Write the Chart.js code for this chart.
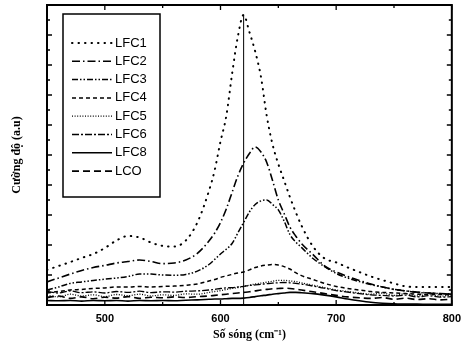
<!DOCTYPE html>
<html>
<head>
<meta charset="utf-8">
<script src="https://cdn.jsdelivr.net/npm/chart.js@4.4.0/dist/chart.umd.min.js"></script>
<style>
html,body{margin:0;padding:0;background:#fff;}
</style>
</head>
<body>
<canvas id="Chart" width="468" height="355"></canvas>
<script>
// wavenumber grid (cm-1), finer around the peaks
var wavenumber = [450,460,470,480,490,500,510,520,530,540,550,560,570,580,590,595,600,605,610,615,620,625,630,635,640,645,650,655,660,665,670,680,690,700,710,720,730,740,750,760,770,780,790,800];

var lfc1 = [1.17,1.3,1.43,1.57,1.7,1.9,2.15,2.3,2.25,2.08,1.97,1.95,2.15,2.75,3.8,4.5,5.45,6.3,7.7,8.95,9.67,9.1,8.45,7.6,6.3,5.35,4.7,4.15,3.6,3.1,2.65,1.95,1.55,1.42,1.25,1.1,0.95,0.83,0.72,0.62,0.6,0.6,0.6,0.6];
var lfc2 = [0.77,0.9,1.03,1.15,1.25,1.32,1.4,1.45,1.5,1.45,1.38,1.4,1.5,1.72,2.13,2.4,2.75,3.2,3.75,4.3,4.73,5.05,5.27,5.1,4.75,4.15,3.5,3.05,2.6,2.3,2.05,1.68,1.3,1.1,0.95,0.82,0.7,0.6,0.52,0.47,0.43,0.4,0.38,0.36];
var lfc3 = [0.5,0.6,0.72,0.77,0.82,0.86,0.9,0.95,1.03,1.03,1.0,0.99,1.02,1.13,1.35,1.52,1.7,1.86,2.05,2.4,2.75,3.1,3.35,3.47,3.5,3.35,3.17,2.8,2.35,2.1,1.92,1.55,1.28,1.05,0.9,0.78,0.68,0.6,0.52,0.47,0.42,0.4,0.38,0.37];
var lfc4 = [0.4,0.45,0.5,0.52,0.55,0.57,0.6,0.6,0.62,0.6,0.62,0.63,0.66,0.7,0.8,0.85,0.92,0.97,1.02,1.07,1.1,1.17,1.25,1.3,1.33,1.35,1.33,1.28,1.2,1.08,0.98,0.85,0.72,0.62,0.55,0.5,0.45,0.42,0.4,0.38,0.36,0.35,0.35,0.34];
var lfc5 = [0.33,0.27,0.36,0.3,0.34,0.28,0.35,0.31,0.36,0.3,0.34,0.32,0.37,0.36,0.42,0.45,0.48,0.52,0.55,0.58,0.62,0.66,0.7,0.73,0.76,0.79,0.82,0.82,0.8,0.78,0.74,0.66,0.58,0.5,0.45,0.4,0.36,0.4,0.32,0.38,0.3,0.36,0.29,0.34];
var lfc6 = [0.45,0.4,0.47,0.41,0.44,0.4,0.45,0.42,0.46,0.41,0.44,0.43,0.46,0.47,0.5,0.52,0.55,0.57,0.58,0.6,0.62,0.65,0.67,0.69,0.71,0.73,0.74,0.75,0.74,0.72,0.7,0.63,0.56,0.48,0.43,0.38,0.34,0.32,0.3,0.33,0.27,0.31,0.26,0.28];
var lfc8 = [0.15,0.14,0.15,0.13,0.15,0.14,0.15,0.13,0.15,0.14,0.15,0.14,0.16,0.17,0.19,0.2,0.2,0.21,0.22,0.22,0.23,0.25,0.28,0.31,0.33,0.36,0.38,0.4,0.42,0.42,0.41,0.38,0.33,0.27,0.2,0.14,0.09,0.06,0.04,0.03,0.03,0.02,0.02,0.02];
var lco  = [0.25,0.3,0.22,0.27,0.21,0.26,0.23,0.28,0.22,0.26,0.24,0.27,0.25,0.28,0.3,0.32,0.34,0.36,0.38,0.4,0.42,0.44,0.47,0.5,0.52,0.54,0.55,0.56,0.55,0.53,0.5,0.44,0.38,0.32,0.27,0.24,0.22,0.25,0.19,0.23,0.18,0.21,0.17,0.2];

var seriesNames = ['LFC1','LFC2','LFC3','LFC4','LFC5','LFC6','LFC8','LCO'];
var seriesValues = [lfc1,lfc2,lfc3,lfc4,lfc5,lfc6,lfc8,lco];

// vertical marker through the LFC1 maximum
var markerX = 620;
var markerTop = 9.67;

var xMajor = [500,600,700,800];
var xMinor = [550,650,750];

var dashes = [[0.5,6],[8,3,1.5,3],[6,2,1.5,2,1.5,2],[4,3],[1,1.6],[7,2,2,2],[],[7,4]];
var widths = [2,1.6,1.5,1.5,1.3,1.3,1.6,1.6];
var caps = ['round','butt','butt','butt','butt','butt','butt','butt'];

function pts(vals){
    return wavenumber.map(function(w,i){ return {x:w, y:vals[i]}; });
}

var datasets = seriesNames.map(function(name,i){
    return {
        label: name,
        data: pts(seriesValues[i]),
        borderColor: '#000',
        borderWidth: widths[i],
        borderDash: dashes[i],
        borderCapStyle: caps[i],
        pointRadius: 0,
        fill: false,
        cubicInterpolationMode: 'monotone'
    };
});
datasets.push({
    label: 'marker',
    data: [{x:markerX,y:0},{x:markerX,y:markerTop}],
    borderColor: '#000',
    borderWidth: 1,
    pointRadius: 0,
    fill: false
});

// frame, inward ticks and the boxed legend
var decor = {
    id: 'decor',
    afterDatasetsDraw: function(chart){
        var c = chart.ctx, a = chart.chartArea;
        var xs = chart.scales.x, ys = chart.scales.y;
        c.save();
        c.strokeStyle = '#000';
        c.lineWidth = 1.3;
        c.setLineDash([]);
        c.beginPath();
        xMajor.concat(xMinor).forEach(function(v){
            var px = xs.getPixelForValue(v);
            var len = xMajor.indexOf(v) >= 0 ? 5 : 3;
            c.moveTo(px, a.bottom); c.lineTo(px, a.bottom - len);
            c.moveTo(px, a.top); c.lineTo(px, a.top + len);
        });
        for (var v = 0.5; v < 10; v += 0.5){
            var py = ys.getPixelForValue(v);
            var len = (v % 1 === 0) ? 5 : 3;
            c.moveTo(a.left, py); c.lineTo(a.left + len, py);
            c.moveTo(a.right, py); c.lineTo(a.right - len, py);
        }
        c.stroke();
        c.lineWidth = 2;
        c.strokeRect(a.left, a.top, a.right - a.left, a.bottom - a.top);

        // legend box
        c.fillStyle = '#fff';
        c.fillRect(63, 14, 97, 183);
        c.lineWidth = 1.5;
        c.strokeRect(63, 14, 97, 183);
        c.font = '13px "Liberation Sans", Arial, sans-serif';
        c.textBaseline = 'middle';
        c.fillStyle = '#000';
        seriesNames.forEach(function(name,i){
            var y = 43 + i * 18.3;
            c.lineWidth = widths[i];
            c.lineCap = caps[i];
            c.setLineDash(dashes[i]);
            c.beginPath();
            c.moveTo(72, y); c.lineTo(112, y);
            c.stroke();
            c.setLineDash([]);
            c.fillText(name, 115, y);
        });
        c.restore();
    }
};

var ctx = document.getElementById('Chart');
var chart = new Chart(ctx, {
    type: 'line',
    data: { datasets: datasets },
    options: {
        responsive: false,
        animation: false,
        devicePixelRatio: 1,
        layout: { padding: { top: 5, right: 16, left: 0, bottom: 0 } },
        plugins: { legend: { display: false }, tooltip: { enabled: false } },
        scales: {
            x: {
                type: 'linear',
                min: 450, max: 800,
                afterFit: function(s){ s.height = 50; },
                grid: { display: false, drawTicks: false },
                border: { display: false },
                afterBuildTicks: function(s){ s.ticks = xMajor.map(function(v){ return {value:v}; }); },
                ticks: {
                    padding: 7,
                    color: '#000',
                    font: { family: '"Liberation Sans", Arial, sans-serif', size: 11, weight: 'bold' }
                },
                title: {
                    display: true,
                    text: 'Số sóng (cm⁻¹)',
                    color: '#000',
                    font: { family: '"Liberation Serif", "Times New Roman", serif', size: 12, weight: 'bold' },
                    padding: { top: 0, bottom: 13 }
                }
            },
            y: {
                min: 0, max: 10,
                afterFit: function(s){ s.width = 47; },
                grid: { display: false, drawTicks: false },
                border: { display: false },
                ticks: { display: false },
                title: {
                    display: true,
                    text: 'Cường độ (a.u)',
                    color: '#000',
                    font: { family: '"Liberation Serif", "Times New Roman", serif', size: 12, weight: 'bold' },
                    padding: { top: 10, bottom: 0 }
                }
            }
        }
    },
    plugins: [decor]
});
</script>
</body>
</html>
